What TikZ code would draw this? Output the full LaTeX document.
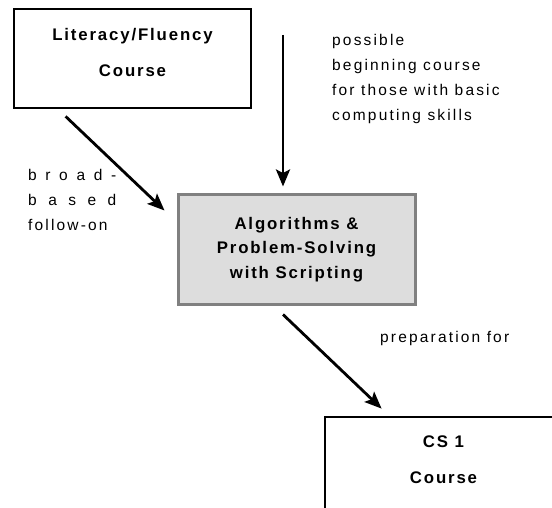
\documentclass[tikz,border=0pt]{standalone}
\usepackage{fontspec}
\setmainfont{Liberation Sans}
\newfontfamily\boxfont{Liberation Sans}[LetterSpace=11]
\newfontfamily\notefont{Liberation Sans}[LetterSpace=14]
\usetikzlibrary{arrows.meta}
\definecolor{boxgray}{HTML}{DDDDDD}
\definecolor{edgegray}{HTML}{808080}

\begin{document}
\begin{tikzpicture}[x=1pt,y=-1pt,
  course/.style={draw,line width=2.8pt,minimum width=237pt,minimum height=99pt,inner sep=0pt},
  title/.style={align=center,inner sep=0pt,font=\boxfont\bfseries\fontsize{16.8}{36}\selectfont},
  note/.style={align=left,inner sep=0pt,anchor=north west,font=\notefont\fontsize{15.5}{24.8}\selectfont},
  link/.style={line width=2.8pt,-{Stealth[length=17pt,width=14pt,inset=3.5pt]}}]

\useasboundingbox (0,0) rectangle (552,508);
\clip (0,0) rectangle (552,508);

\node[course] (lit) at (132.5,58.5) {};
\node[title] (littext) at ([yshift=6.5pt]lit.center) {Literacy/Fluency\\Course};

\node[draw=edgegray,fill=boxgray,line width=3pt,minimum width=237pt,minimum height=109pt,
  align=center,font=\boxfont\bfseries\fontsize{16.8}{24.5}\selectfont] (alg) at (296.5,249.5)
  {Algorithms \&\\Problem-Solving\\with Scripting};

\node[course] (cs) at (443.5,466.5) {};
\node[title] (cstext) at ([yshift=6.5pt]cs.center) {CS 1\\Course};

\coordinate (start) at (283,35);

\draw[link] ([shift={(53,7)}]lit.south west) -- ([shift={(-12,17)}]alg.north west);
\draw[link,shorten >=7pt] (start) -- (start |- alg.north);
\draw[link] ([shift={(-13.5,9)}]alg.south) -- ([shift={(58,-7)}]cs.north west);

\node[note] (poss) at (332,34.5) {possible\\beginning course\\for those with basic\\computing skills};
\node[note] (broad) at (28,169.5) {\makebox[88pt][s]{b r o a d -}\\\makebox[88pt][s]{b a s e d}\\follow-on};
\node[note] (prep) at (380,331.5) {preparation for};
\end{tikzpicture}
\end{document}
